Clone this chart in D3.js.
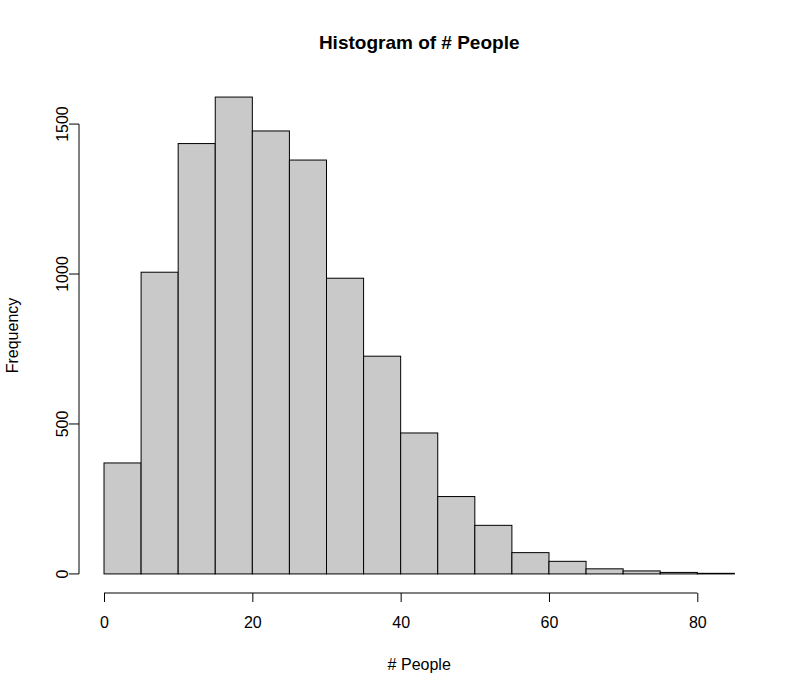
<!DOCTYPE html>
<html>
<head>
<meta charset="utf-8">
<script src="https://cdn.jsdelivr.net/npm/d3@7"></script>
<style>
  body { margin: 0; background: #fff; }
  text { font-family: "Liberation Sans", Arial, Helvetica, sans-serif; fill: #000; }
</style>
</head>
<body>
<div id="chart"></div>
<script>
// bin edges and counts
var binStart = [0, 5, 10, 15, 20, 25, 30, 35, 40, 45, 50, 55, 60, 65, 70, 75, 80];
var counts = [370, 1006, 1435, 1590, 1477, 1380, 986, 726, 470, 258, 162, 71, 42, 17, 10, 5, 2];
var binWidth = 5;
var xTicks = [0, 20, 40, 60, 80];
var yTicks = [0, 500, 1000, 1500];

var width = 800, height = 691;

var svg = d3.select("#chart").append("svg")
    .attr("width", width)
    .attr("height", height)

// R-like plot region: 4% padding on each side of the data range
var x = d3.scaleLinear().domain([-3.4, 88.4]).range([78.8, 759.6]);
var y = d3.scaleLinear().domain([-63.6, 1653.6]).range([593, 78]);

var bins = binStart.map(function(s, i) { return {x0: s, x1: s + binWidth, n: counts[i]}; });

svg.selectAll("rect.bar")
    .data(bins)
  .enter().append("rect")
    .attr("class", "bar")
    .attr("x", function(d) { return x(d.x0); })
    .attr("y", function(d) { return y(d.n); })
    .attr("width", function(d) { return x(d.x1) - x(d.x0); })
    .attr("height", function(d) { return y(0) - y(d.n); })
    .style("fill", "#c9c9c9")
    .style("stroke", "#000")
    .style("stroke-width", 1)

// x axis
var xAxis = svg.append("g")
    .attr("transform", "translate(0," + 593 + ")")
    .call(d3.axisBottom(x).tickValues(xTicks).tickSize(9).tickSizeOuter(0).tickPadding(15))
xAxis.select(".domain").attr("d", "M" + x(0) + ",0H" + x(80))
xAxis.selectAll("text")
    .style("font-size", "16px")
    .style("font-family", "'Liberation Sans', Arial, sans-serif")
    .attr("dy", "0.71em")

// y axis
var yAxis = svg.append("g")
    .attr("transform", "translate(" + 79 + ",0)")
    .call(d3.axisLeft(y).tickValues(yTicks).tickSize(10).tickSizeOuter(0).tickFormat(d3.format("d")))
yAxis.select(".domain").attr("d", "M0," + y(0) + "V" + y(1500))
yAxis.selectAll("text")
    .style("font-size", "16px")
    .style("font-family", "'Liberation Sans', Arial, sans-serif")
    .attr("text-anchor", "middle")
    .attr("x", null)
    .attr("dy", null)
    .attr("transform", function(d) { return "translate(-11," + y(d) + ") rotate(-90)"; })
    .attr("y", 0)
yAxis.selectAll(".tick").attr("transform", null)
yAxis.selectAll(".tick line")
    .attr("transform", function(d) { return "translate(0," + y(d) + ")"; })

svg.selectAll(".tick line, .domain").style("stroke", "#000")

// titles, centred on the plot region like R does
var midX = (x.range()[0] + x.range()[1]) / 2;
var midY = (y.range()[0] + y.range()[1]) / 2;

svg.append("text")
    .attr("x", midX)
    .attr("y", 49)
    .attr("text-anchor", "middle")
    .style("font-size", "19px")
    .style("font-weight", "bold")
    .text("Histogram of # People")

svg.append("text")
    .attr("x", midX)
    .attr("y", 670)
    .attr("text-anchor", "middle")
    .style("font-size", "16px")
    .text("# People")

svg.append("text")
    .attr("transform", "translate(18," + midY + ") rotate(-90)")
    .attr("text-anchor", "middle")
    .style("font-size", "16px")
    .text("Frequency")
</script>
</body>
</html>
